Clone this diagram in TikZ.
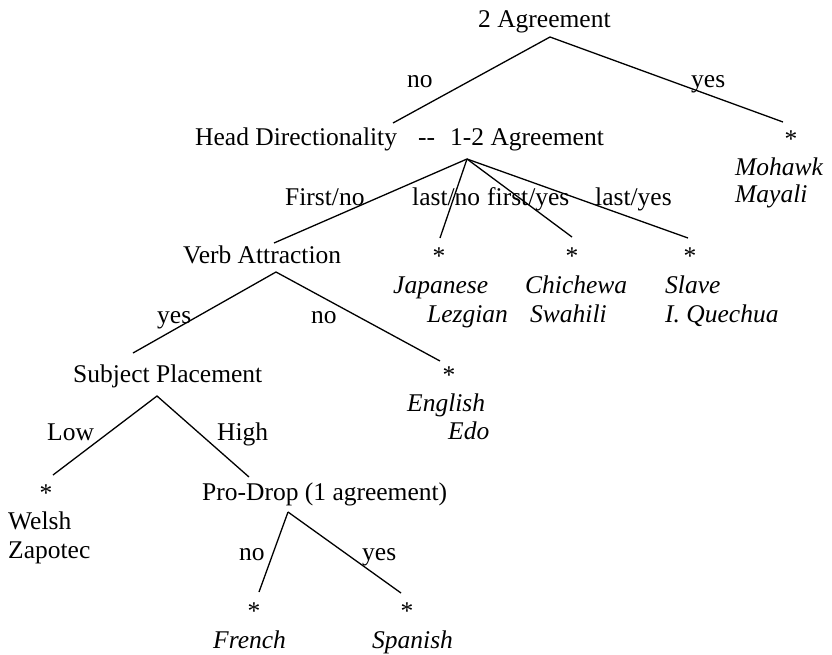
\documentclass[tikz,border=0pt]{standalone}
\usepackage{fontspec}
\setmainfont{Liberation Serif}
\begin{document}
\begin{tikzpicture}[x=1pt,y=-1pt,
  lbl/.style={anchor=base west,inner sep=0pt,font=\fontsize{25.5}{30}\selectfont},
  lang/.style={lbl,font=\fontsize{25.5}{30}\selectfont\itshape},
  leaf/.style={anchor=base,inner sep=0pt,font=\fontsize{25.5}{30}\selectfont},
  edge/.style={line width=1.3pt}]
\useasboundingbox (0,0) rectangle (832,654);
% texts
\node[lbl] (top) at (478,27) {2 Agreement};
\node[lbl] (no1) at (407,87) {no};
\node[lbl] (yes1) at (691,87) {yes};
\node[lbl] (hd) at (195,145) {Head Directionality};
\node[lbl] (dash) at (418,145) {{-}{-}};
\node[lbl] (one2) at (450,145) {1-2 Agreement};
\node[leaf] (sM) at (791,147) {*};
\node[lang] (mohawk) at (735,175) {Mohawk};
\node[lang] (mayali) at (735,202) {Mayali};
\node[lbl] (fno) at (285,205) {First/no};
\node[lbl] (lno) at (412,205) {last/no};
\node[lbl] (fyes) at (487,205) {first/yes};
\node[lbl] (lyes) at (595,205) {last/yes};
\node[lbl] (va) at (183,263) {Verb Attraction};
\node[leaf] (sJ) at (439,264) {*};
\node[leaf] (sC) at (572,264) {*};
\node[leaf] (sS) at (690,264) {*};
\node[lang] (jap) at (393,293) {Japanese};
\node[lang] (lez) at (427,322) {Lezgian};
\node[lang] (chi) at (525,293) {Chichewa};
\node[lang] (swa) at (530,322) {Swahili};
\node[lang] (sla) at (665,293) {Slave};
\node[lang] (que) at (665,322) {I. Quechua};
\node[lbl] (yes2) at (157,323) {yes};
\node[lbl] (no2) at (311,323) {no};
\node[lbl] (sp) at (73,382) {Subject Placement};
\node[leaf] (sE) at (449,383) {*};
\node[lang] (eng) at (407,411) {English};
\node[lang] (edo) at (448,439) {Edo};
\node[lbl] (low) at (47,440) {Low};
\node[lbl] (high) at (217,440) {High};
\node[leaf] (sW) at (46,501) {*};
\node[lbl] (pd) at (202,500) {Pro-Drop (1 agreement)};
\node[lbl] (welsh) at (8,529) {Welsh};
\node[lbl] (zap) at (8,558) {Zapotec};
\node[lbl] (no3) at (239,560) {no};
\node[lbl] (yes3) at (362,560) {yes};
\node[leaf] (sF) at (254,619) {*};
\node[leaf] (sSp) at (407,619) {*};
\node[lang] (fre) at (213,648) {French};
\node[lang] (spa) at (372,648) {Spanish};
% junctions and line ends
\coordinate (j0) at (550,37);
\coordinate (e0a) at (393,123);
\coordinate (e0b) at (783,122);
\coordinate (j1) at (467,159);
\coordinate (e1a) at (274,243);
\coordinate (e1b) at (440,238);
\coordinate (e1c) at (572,237);
\coordinate (e1d) at (688,238);
\coordinate (j2) at (276,272);
\coordinate (e2a) at (133,353);
\coordinate (e2b) at (440,361);
\coordinate (j3) at (157,396);
\coordinate (e3a) at (53,475);
\coordinate (e3b) at (249,477);
\coordinate (j4) at (288,512);
\coordinate (e4a) at (259,592);
\coordinate (e4b) at (401,593);
% connectors
\draw[edge] (e0a) -- (j0) -- (e0b);
\draw[edge] (j1) -- (e1a);
\draw[edge] (j1) -- (e1b);
\draw[edge] (j1) -- (e1c);
\draw[edge] (j1) -- (e1d);
\draw[edge] (e2a) -- (j2) -- (e2b);
\draw[edge] (e3a) -- (j3) -- (e3b);
\draw[edge] (j4) -- (e4a);
\draw[edge] (j4) -- (e4b);
\end{tikzpicture}
\end{document}
